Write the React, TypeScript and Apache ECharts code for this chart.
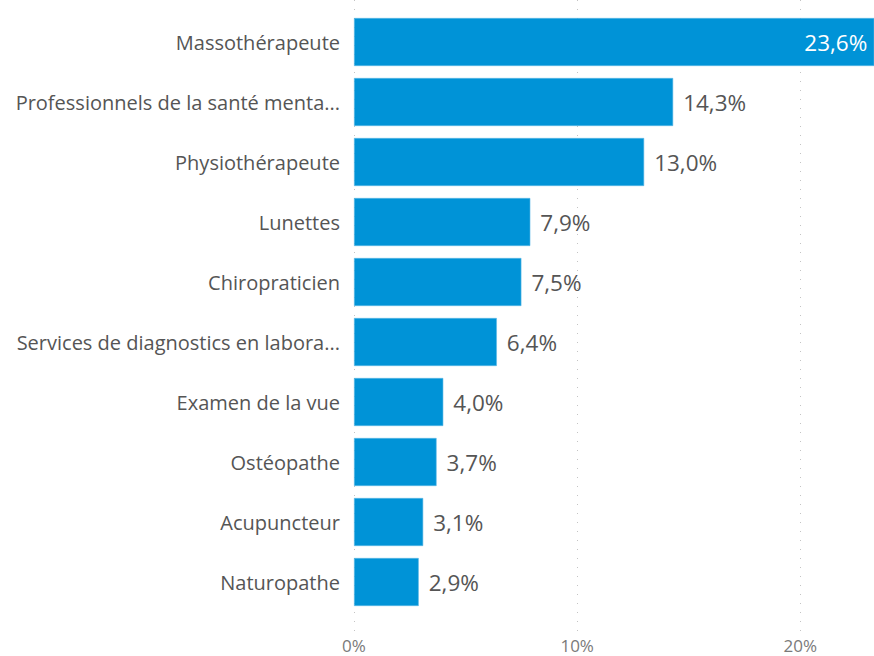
import React, { useEffect, useRef } from "react";
import * as echarts from "echarts";

const categories = [
  "Massothérapeute",
  "Professionnels de la santé menta...",
  "Physiothérapeute",
  "Lunettes",
  "Chiropraticien",
  "Services de diagnostics en labora...",
  "Examen de la vue",
  "Ostéopathe",
  "Acupuncteur",
  "Naturopathe",
];
const values = [23.6, 14.3, 13.0, 7.9, 7.5, 6.4, 4.0, 3.7, 3.1, 2.9];
const xTicks = [0, 10, 20];

const FONT = "'Open Sans', 'Noto Sans', sans-serif";
const TEXT = "#555555";
const BLUE = "#0093D7";
const AXIS_MAX = 23.3;

export default function App() {
  const ref = useRef<HTMLDivElement>(null);
  useEffect(() => {
    document.body.style.margin = "0";
    if (!ref.current) return;
    const chart = echarts.init(ref.current, undefined, { renderer: "svg" });
    const fmt = (v: number) => v.toFixed(1).replace(".", ",") + "%";
    chart.setOption({
      animation: false,
      backgroundColor: "#ffffff",
      grid: [
        { left: 354, right: 0, top: 12, height: 600 },
        { left: 354, right: 0, top: 0, height: 632 },
      ],
      xAxis: [
        {
          gridIndex: 0,
          type: "value",
          min: 0,
          max: AXIS_MAX,
          interval: 10,
          axisLine: { show: false },
          axisTick: { show: false },
          splitLine: { show: false },
          axisLabel: { show: false },
        },
        {
          gridIndex: 1,
          type: "value",
          min: 0,
          max: AXIS_MAX,
          interval: 10,
          axisLine: { show: false },
          axisTick: { show: false },
          splitLine: {
            show: true,
            lineStyle: { color: "#c4c4c4", type: [1, 8], width: 1 },
          },
          axisLabel: {
            show: true,
            color: "#7a7a7a",
            fontFamily: FONT,
            fontSize: 17,
            margin: 5,
            showMaxLabel: false,
            formatter: (v: number) => (xTicks.includes(v) ? v + "%" : ""),
          },
        },
      ],
      yAxis: [
        {
          gridIndex: 0,
          type: "category",
          data: categories,
          inverse: true,
          axisLine: { show: false },
          axisTick: { show: false },
          axisLabel: {
            color: TEXT,
            fontFamily: FONT,
            fontSize: 20,
            margin: 14,
          },
        },
        {
          gridIndex: 1,
          type: "value",
          show: false,
        },
      ],
      series: [
        {
          type: "bar",
          xAxisIndex: 0,
          yAxisIndex: 0,
          data: values.map((v, i) => ({
            value: v,
            label:
              i === 0
                ? {
                    show: true,
                    position: "insideRight",
                    color: "#ffffff",
                    distance: 7,
                  }
                : undefined,
          })),
          barCategoryGap: "20%",
          itemStyle: { color: BLUE, borderColor: "#5cb8e6", borderWidth: 0.6 },
          label: {
            show: true,
            position: "right",
            distance: 10,
            color: TEXT,
            fontFamily: FONT,
            fontSize: 22.5,
            formatter: (p: any) => fmt(p.value),
          },
          clip: true,
        },
      ],
    });
    return () => chart.dispose();
  }, []);
  return <div ref={ref} style={{ width: 874, height: 656 }} />;
}
